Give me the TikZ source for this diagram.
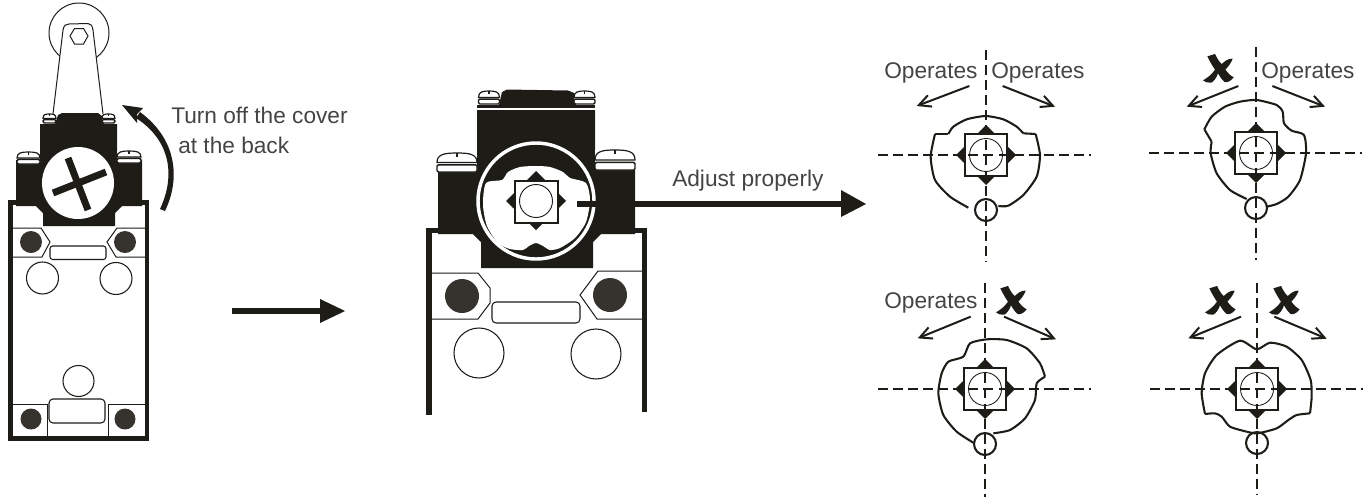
\documentclass[tikz,border=0pt]{standalone}
\usepackage{fontspec}
\setmainfont{Liberation Sans}
\usetikzlibrary{arrows.meta}
\definecolor{ink}{HTML}{1E1C17}
\definecolor{knob}{HTML}{36322E}
\definecolor{txt}{HTML}{444442}
\tikzset{
  lab/.style={anchor=base west,inner sep=0pt,font=\fontsize{17}{20}\selectfont,text=txt},
  thin line/.style={draw=ink,line width=.75pt},
  cam/.style={draw=ink,line width=1.55pt,line join=round},
  guide/.style={draw=ink,line width=1pt,dash pattern=on 7.5pt off 3.8pt},
  opa/.style={draw=ink,line width=1.5pt,-{Straight Barb[length=9pt,width=9pt,line width=1.5pt]}},
  hole/.style={draw=ink,fill=white,line width=.8pt},
}
% screw in a unit box
\newcommand\myscrew[4]{\begin{scope}[shift={(#1,#2)},xscale=#3,yscale=#4]
  \fill[white] (0,0) rectangle (1,1);
  \draw[ink,line width=.9pt,fill=white] (0,.5) .. controls (0,.05) and (.2,0) .. (.5,0) .. controls (.8,0) and (1,.05) .. (1,.5) -- cycle;
  \draw[ink,line width=.8pt] (.5,0) -- (.5,.22);
  \draw[ink,line width=1.1pt,fill=white,rounded corners=1pt] (0,.62) rectangle (1,1);
\end{scope}}
% dial core
\newcommand\mycore[2]{\begin{scope}[shift={(#1,#2)}]
  \fill[ink] (0,-30) -- (30,0) -- (0,30) -- (-30,0) -- cycle;
  \draw[draw=ink,fill=white,line width=.85pt] (-21,-21) rectangle (21,21);
  \draw[ink,line width=.65pt] (0,0) circle (16.5);
\end{scope}}
% swash cross
\newcommand\mycross[2]{\begin{scope}[shift={(#1,#2)},scale=.3333]
  \fill[ink] (-38,-35) -- (-15,-42) .. controls (-10,-32) and (-4,-20) .. (5,-12)
   .. controls (14,-20) and (26,-30) .. (38,-28)
   .. controls (34,-15) and (24,-4) .. (16,5)
   .. controls (22,14) and (30,22) .. (41,28)
   .. controls (32,40) and (22,44) .. (14,42)
   .. controls (6,36) and (0,26) .. (-6,16)
   .. controls (-10,28) and (-18,40) .. (-26,44)
   .. controls (-36,46) and (-46,42) .. (-51,37)
   .. controls (-38,30) and (-24,18) .. (-15,5)
   .. controls (-24,-8) and (-32,-22) .. (-38,-35) -- cycle;
\end{scope}}
\begin{document}
\begin{tikzpicture}[x=.75pt,y=-.75pt]
\useasboundingbox (0,0) rectangle (1366,497);
% ===== left switch =====
\draw[ink,line width=.75pt,fill=white] (79,33) circle (30);
\draw[ink,line width=.75pt,fill=white] (53,114) -- (63,30) .. controls (64,25) and (66,24) .. (69,24) -- (88,23.5) .. controls (91,24) and (92,25) .. (93,30) -- (103,114);
\draw[ink,line width=.75pt] (70,36) -- (74.5,28.5) -- (83.5,28.5) -- (88,36) -- (83.5,44) -- (74.5,44) -- cycle;
\fill[ink] (8,200) rectangle (149,441);
\fill[white] (13,205) rectangle (145,436);
\fill[ink] (40,124) -- (117,124) -- (117,160) -- (142,160) -- (142,206) -- (122,206) -- (115,213) -- (115,226) -- (43,226) -- (43,213) -- (36,206) -- (16,206) -- (16,160) -- (40,160) -- cycle;
\fill[ink] (55,124) -- (58,115) -- (62,113) -- (98,113) -- (102,116) -- (104,124) -- cycle;
\myscrew{43}{114}{13}{9}
\myscrew{102}{114}{13}{9}
\myscrew{17}{152}{23}{12}
\myscrew{117}{151}{24}{12}
\fill[white] (78,183) circle (36);
\draw[ink,line width=5.2pt] (53,193) -- (106,172);
\draw[ink,line width=5.2pt] (68,158) -- (88,210);
\draw[thin line] (13,228) -- (41,228) -- (50,242) -- (42,257) -- (13,257);
\draw[thin line] (145,228) -- (117,228) -- (107,242) -- (116,257) -- (145,257);
\fill[knob] (31,242) circle (11);
\fill[knob] (125,242) circle (11);
\draw[hole,rounded corners=2pt] (50,246) rectangle (106,259.5);
\draw[hole] (42.5,278) circle (16);
\draw[hole] (116,278.5) circle (16);
\draw[hole] (78.5,381) circle (15.5);
\draw[thin line] (13,404) -- (47,404) -- (47,436);
\draw[thin line] (145,404) -- (108,404) -- (108,436);
\draw[hole,rounded corners=3pt] (49,399) rectangle (105,423);
\fill[knob] (31,419) circle (10.5);
\fill[knob] (125,419) circle (10.5);
% curved arrow
\fill[ink] (165,211) .. controls (180,180) and (178,140) .. (140,112) -- (136,118) .. controls (170,140) and (176,175) .. (160,209) -- cycle;
\fill[ink] (122,105) -- (143,108) -- (137,114) -- (137,123) -- cycle;
\node[lab] (t1) at (171,123) {Turn off the cover};
\node[lab] (t2) at (178,153) {at the back};
% move arrow
\fill[ink] (232,308) rectangle (322,314);
\fill[ink] (320,299) -- (345,311) -- (320,323) -- cycle;
% ===== centre switch =====
\fill[ink] (426,228) rectangle (647,415);
\fill[white] (432,233) rectangle (642,420);
\fill[white] (642,412) rectangle (648,420);
\fill[ink] (477,110) -- (595,110) -- (595,170) -- (635,170) -- (635,234) -- (601,234) -- (593,242) -- (593,268) -- (481,268) -- (481,242) -- (473,234) -- (438,234) -- (438,172) -- (477,172) -- cycle;
\fill[ink] (499,105) -- (502,92) -- (507,89.5) -- (568,90.5) -- (574,93) -- (576,105) -- cycle;
\fill[ink] (477,105) rectangle (595,108);
\myscrew{478.5}{91}{21}{13}
\myscrew{574}{91}{21}{13}
\myscrew{437}{153}{40}{19}
\myscrew{595}{150}{40}{20}
% ring, blob
\fill[ink] (536,201) circle (58);
\draw[white,line width=2.6pt] (536,201) circle (58);
\fill[white] plot[smooth cycle,tension=.45] coordinates {(486,183) (502,180) (508,172) (520,167) (536,166) (550,167) (563,172) (570,178) (586,183) (590,200) (586,222) (575,238) (560,248) (550,250) (543,246) (536,243) (529,246) (523,250) (510,249) (498,243) (487,226) (483,205)};
\fill[ink] (536,171) -- (566,201) -- (536,230) -- (506,201) -- cycle;
\draw[ink,fill=white,line width=.9pt] (515,181) rectangle (558,223);
\draw[ink,line width=.7pt] (536,201) circle (16.5);
% plates
\draw[thin line] (432,273) -- (478,273) -- (490,288) -- (490,303) -- (478,319) -- (432,319);
\draw[thin line] (642,271) -- (598,271) -- (580,295) -- (597,319) -- (642,319);
\fill[knob] (462,296) circle (17);
\fill[knob] (610,295) circle (17);
\draw[hole,rounded corners=3pt] (492,302) rectangle (580,323);
\draw[hole] (479,353) circle (25);
\draw[hole] (596,354) circle (25);
% adjust arrow
\node[lab] (t3) at (672,186) {Adjust properly};
\fill[ink] (577,201) rectangle (845,207);
\fill[ink] (841,190) -- (866,204) -- (841,217) -- cycle;
% ===== dials =====
% dial 1
\mycore{986}{155}
\draw[guide] (878,155) -- (1091,155);
\draw[guide] (986,50) -- (986,262);
\begin{scope}[shift={(840,10)},x=.25pt,y=-.25pt]
\draw[cam] plot[smooth,tension=.4] coordinates {(385,593) (330,560) (285,510) (272,440) (285,372)};
\draw[cam] (285,372) -- (325,372);
\draw[cam] plot[smooth,tension=.4] coordinates {(325,372) (340,350) (380,328) (437,318) (490,328) (530,350) (550,370)};
\draw[cam] (550,370) -- (587,372);
\draw[cam] plot[smooth,tension=.4] coordinates {(587,372) (600,435) (590,500) (550,555) (505,587) (475,588)};
\draw[opa] (388,228) -- (230,288);
\draw[opa] (488,228) -- (645,290);
\end{scope}
\draw[cam] (986,210) circle (11);
\node[lab] (o1) at (884,78) {Operates};
\node[lab] (o2) at (991,78) {Operates};
% dial 2
\mycore{1256}{153}
\draw[guide] (1149,153) -- (1362,153);
\draw[guide] (1256,47) -- (1256,260);
\begin{scope}[shift={(1100,10)},x=.25pt,y=-.25pt]
\draw[cam] plot[smooth,tension=.4] coordinates {(440,567) (390,540) (350,490) (332,430) (335,395)};
\draw[cam] (335,395) -- (313,358);
\draw[cam] plot[smooth,tension=.4] coordinates {(313,358) (335,320) (375,290) (420,275) (470,270) (530,285) (548,305) (552,340) (575,362) (612,375) (618,430) (600,510) (565,560) (530,582) (500,590)};
\draw[opa] (415,228) -- (260,290);
\draw[opa] (517,228) -- (675,290);
\end{scope}
\draw[cam] (1256,208) circle (11);
\mycross{1220}{68}
\node[lab] (o3) at (1261,78) {Operates};
% dial 3
\mycore{985}{389}
\draw[guide] (878,389) -- (1091,389);
\draw[guide] (985,283) -- (985,497);
\begin{scope}[shift={(840,250)},x=.25pt,y=-.25pt]
\draw[cam] plot[smooth,tension=.4] coordinates {(400,578) (350,545) (310,495) (295,430) (305,370) (325,335) (370,320) (390,280) (440,268) (500,270) (560,295) (600,340) (615,380)};
\draw[cam] plot[smooth,tension=.4] coordinates {(615,380) (590,400) (585,450) (555,505) (510,540) (460,550)};
\draw[opa] (392,200) -- (233,265);
\draw[opa] (492,200) -- (648,268);
\end{scope}
\draw[cam] (985,444) circle (11);
\mycross{1013}{300}
\node[lab] (o4) at (884,308) {Operates};
% dial 4
\mycore{1257}{389}
\draw[guide] (1150,389) -- (1363,389);
\draw[guide] (1257,283) -- (1257,495);
\begin{scope}[shift={(1100,250)},x=.25pt,y=-.25pt]
\draw[cam] plot[smooth,tension=.4] coordinates {(440,545) (390,530) (365,500) (345,490) (315,492)};
\draw[cam] plot[smooth,tension=.4] coordinates {(315,492) (305,430) (315,370) (350,315) (420,272) (470,298) (510,278) (560,290) (605,330) (632,390) (635,440) (630,490)};
\draw[cam] plot[smooth,tension=.4] coordinates {(630,490) (590,495) (565,510) (530,535) (472,550) (440,545)};
\draw[opa] (423,200) -- (265,265);
\draw[opa] (523,200) -- (680,266);
\end{scope}
\draw[cam] (1257,443) circle (11);
\mycross{1222}{300}
\mycross{1286}{300}
\end{tikzpicture}
\end{document}
